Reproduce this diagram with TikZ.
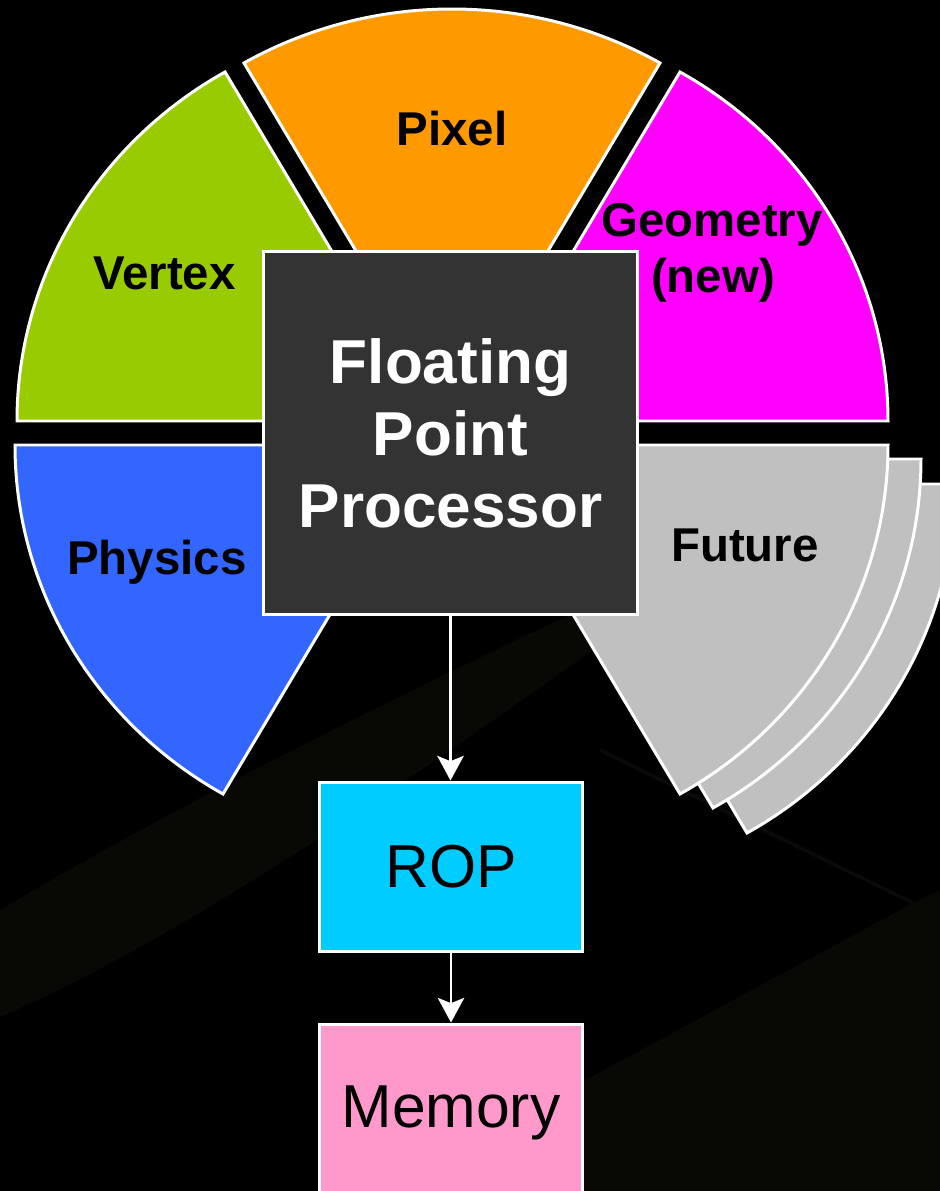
\documentclass[tikz,border=0pt]{standalone}
\usepackage{fontspec}
\setmainfont{Liberation Sans}
\usetikzlibrary{arrows.meta}
\definecolor{vgreen}{HTML}{99CC00}
\definecolor{porange}{HTML}{FF9900}
\definecolor{gmagenta}{HTML}{FF00FF}
\definecolor{pblue}{HTML}{3366FF}
\definecolor{fgray}{HTML}{C0C0C0}
\definecolor{fppgray}{HTML}{333333}
\definecolor{ropcyan}{HTML}{00CCFF}
\definecolor{mempink}{HTML}{FF99CC}
\definecolor{bgolive}{RGB}{8,8,4}
\definecolor{bggray}{RGB}{10,10,9}
\begin{document}
\begin{tikzpicture}[x=0.02cm,y=0.02cm,
  wedge/.style={draw=white, line width=1.7pt, line join=miter},
  lbl/.style={font=\fontsize{27}{32}\selectfont\bfseries, text=black, anchor=base, inner sep=0pt},
  box/.style={draw=white, line width=1.7pt, inner sep=0pt},
  flow/.style={draw=white, line width=1.7pt, -{Stealth[length=14pt,width=15pt,inset=3pt]}}]
\fill[black] (0,0) rectangle (940,1191);
\useasboundingbox (0,0) rectangle (940,1191);
% faint background swooshes
\fill[bgolive] (580,108) -- (913,288) -- (940,301) -- (940,0) -- (580,0) -- cycle;
\fill[bgolive] (0,281) .. controls (200,400) and (450,520) .. (620,600) -- (620,560) .. controls (450,440) and (200,260) .. (0,174) -- cycle;
\draw[bggray, line width=2pt] (600,441) -- (913,288);
% wedges
\path[wedge, fill=vgreen] (433,770) -- ++(-416,0) arc[start angle=180, end angle=120, x radius=416, y radius=403] -- cycle;
\path[wedge, fill=porange] (452,779) -- ++(-208,349) arc[start angle=120, end angle=60, x radius=416, y radius=403] -- cycle;
\path[wedge, fill=gmagenta] (472,770) -- ++(208,349) arc[start angle=60, end angle=0, x radius=416, y radius=403] -- cycle;
\path[wedge, fill=pblue] (431,746) -- ++(-416,0) arc[start angle=180, end angle=240, x radius=416, y radius=403] -- cycle;
\path[wedge, fill=fgray, shift={(67,-39)}] (472,746) -- ++(416,0) arc[start angle=0, end angle=-60, x radius=416, y radius=403] -- cycle;
\path[wedge, fill=fgray, shift={(33,-14)}] (472,746) -- ++(416,0) arc[start angle=0, end angle=-60, x radius=416, y radius=403] -- cycle;
\path[wedge, fill=fgray] (472,746) -- ++(416,0) arc[start angle=0, end angle=-60, x radius=416, y radius=403] -- cycle;
% wedge labels
\node[lbl] (pixel) at (452,1045) {Pixel};
\node[lbl] (vertex) at (164.5,901) {Vertex};
\node[lbl] (geo1) at (712,954) {Geometry};
\node[lbl] (geo2) at (713,898) {(new)};
\node[lbl] (physics) at (157,616) {Physics};
\node[lbl] (future) at (745,629) {Future};
% boxes
\node[box, fill=fppgray, minimum width=7.5cm, minimum height=7.28cm, text=white, align=center,
  font=\fontsize{35.3}{41}\selectfont\bfseries] (fpp) at (450.5,758) {Floating\\Point\\Processor};
\node[box, fill=ropcyan, minimum width=5.28cm, minimum height=3.4cm, text=black,
  font=\fontsize{34.5}{40}\selectfont] (rop) at (451,324) {ROP};
\node[box, fill=mempink, minimum width=5.28cm, minimum height=3.74cm] (mem) at (451,73.5) {};
\node[anchor=base, inner sep=0pt, text=black, font=\fontsize{34.5}{40}\selectfont] (memtxt) at (451,63) {Memory};
% connectors
\draw[flow] (fpp.south) -- (fpp.south |- rop.north);
\draw[flow] (rop.south) -- (mem.north);
\end{tikzpicture}
\end{document}
